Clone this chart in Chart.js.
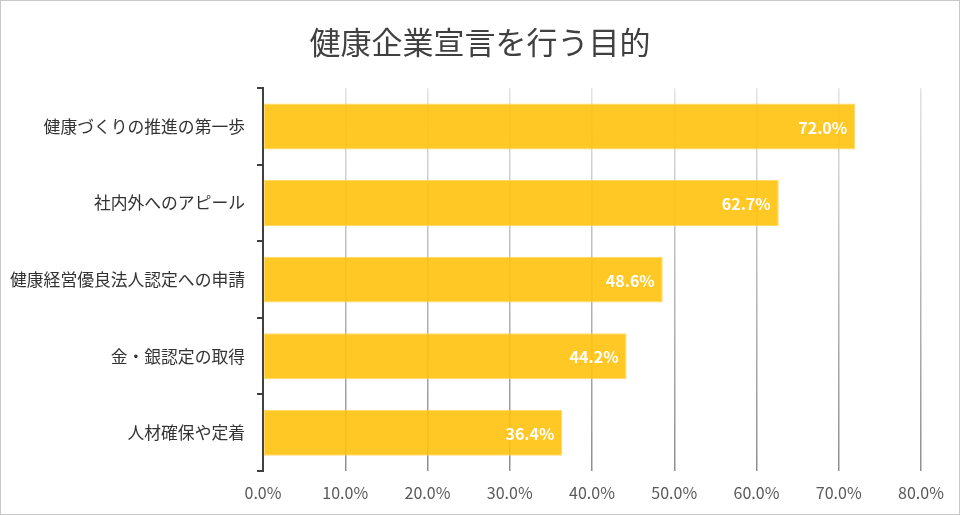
<!DOCTYPE html>
<html lang="ja">
<head>
<meta charset="utf-8">
<title>健康企業宣言を行う目的</title>
<script src="https://cdn.jsdelivr.net/npm/chart.js@4.4.1/dist/chart.umd.min.js"></script>
<style>
    html, body { margin: 0; padding: 0; background: #fff; }
    .frame {
        position: relative;
        width: 958px;
        height: 513px;
        border: 1px solid #c8c8c8;
    }
    canvas { display: block; }
</style>
</head>
<body>
<div class="frame">
    <canvas id="purposeChart" width="958" height="513"></canvas>
</div>
<script>
// chart data
const categories = [
    '健康づくりの推進の第一歩',
    '社内外へのアピール',
    '健康経営優良法人認定への申請',
    '金・銀認定の取得',
    '人材確保や定着'
];
const percentValues = [72.0, 62.7, 48.6, 44.2, 36.4];
const tickValues = [0, 10, 20, 30, 40, 50, 60, 70, 80];

const FONT = '"Noto Sans CJK JP", "Noto Sans", sans-serif';

// white value labels inside the end of each bar
const valueLabels = {
    id: 'valueLabels',
    afterDatasetsDraw(chart) {
        const { ctx } = chart;
        const meta = chart.getDatasetMeta(0);
        ctx.save();
        ctx.font = `bold 16px ${FONT}`;
        ctx.fillStyle = '#ffffff';
        ctx.textAlign = 'right';
        ctx.textBaseline = 'middle';
        meta.data.forEach((bar, i) => {
            ctx.fillText(percentValues[i].toFixed(1) + '%', bar.x - 8, bar.y + 1);
        });
        ctx.restore();
    }
};

// vertical grid lines fade from light at the top to darker at the bottom
function gridGradient(context) {
    const chart = context.chart;
    const area = chart.chartArea;
    if (!area) return '#cccccc';
    const g = chart.ctx.createLinearGradient(0, area.top, 0, area.bottom);
    g.addColorStop(0, '#e2e2e2');
    g.addColorStop(1, '#8f8f8f');
    return g;
}

new Chart(document.getElementById('purposeChart'), {
    type: 'bar',
    data: {
        labels: categories,
        datasets: [{
            data: percentValues,
            backgroundColor: 'rgba(255, 194, 13, 0.9)',
            borderColor: 'rgba(255, 214, 90, 0.9)',
            borderWidth: 1,
            borderSkipped: false,
            barPercentage: 0.6,
            categoryPercentage: 1.0
        }]
    },
    options: {
        indexAxis: 'y',
        responsive: false,
        animation: false,
        devicePixelRatio: 1,
        layout: { padding: 0 },
        plugins: {
            legend: { display: false },
            tooltip: { enabled: false },
            title: {
                display: true,
                text: '健康企業宣言を行う目的',
                color: '#404040',
                font: { family: FONT, size: 31, weight: 'normal' },
                padding: { top: 23, bottom: 27 }
            }
        },
        scales: {
            x: {
                min: 0,
                max: 80,
                afterBuildTicks: (scale) => {
                    scale.ticks = tickValues.map(v => ({ value: v }));
                },
                afterFit: (scale) => { scale.height = 43; },
                border: { display: false },
                grid: {
                    color: gridGradient,
                    lineWidth: 1.5,
                    drawTicks: false
                },
                ticks: {
                    padding: 12,
                    color: '#595959',
                    font: { family: FONT, size: 16 },
                    callback: (v) => v.toFixed(1) + '%'
                }
            },
            y: {
                afterFit: (scale) => { scale.width = 262; },
                border: { display: true, color: '#404040', width: 2 },
                grid: {
                    offset: true,
                    drawOnChartArea: false,
                    drawTicks: true,
                    tickLength: 6,
                    color: '#404040',
                    lineWidth: 2
                },
                ticks: {
                    padding: 12,
                    color: '#333333',
                    font: { family: FONT, size: 16.8 }
                }
            },
            // empty spacer on the right so the plot ends at 80% near the edge
            yRight: {
                type: 'category',
                position: 'right',
                afterFit: (scale) => { scale.width = 38; },
                border: { display: false },
                grid: { display: false },
                ticks: { display: false }
            }
        }
    },
    plugins: [valueLabels]
});
</script>
</body>
</html>
